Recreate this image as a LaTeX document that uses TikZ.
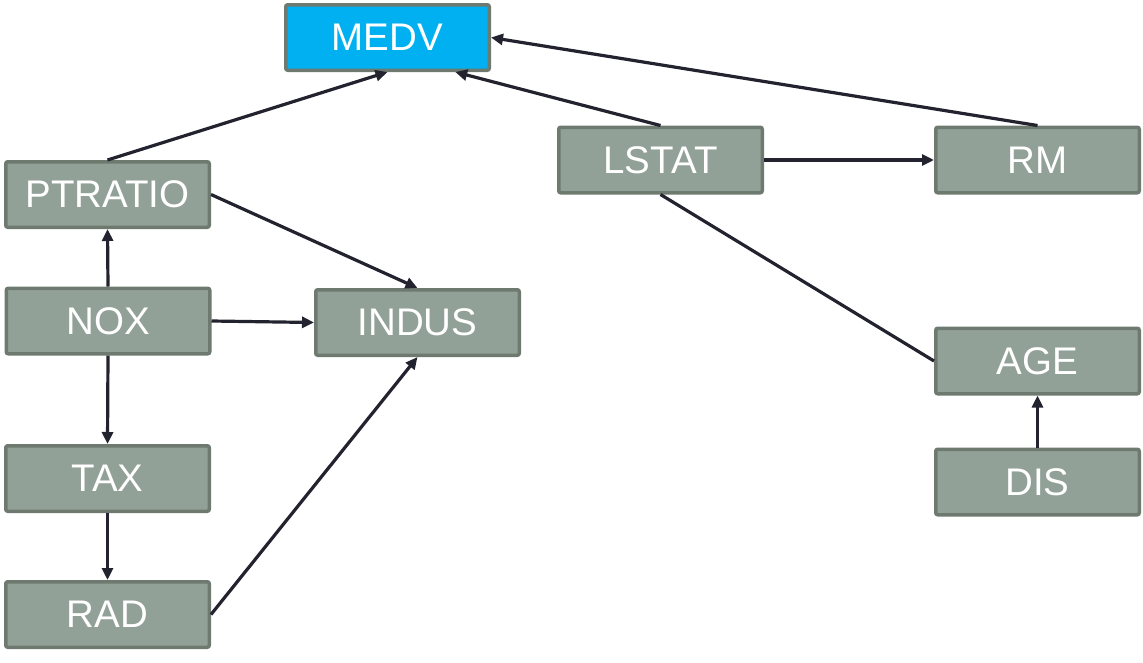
\documentclass[tikz,border=0pt]{standalone}
\usepackage{fontspec}
\setmainfont{Liberation Sans}
\usetikzlibrary{arrows.meta}
\definecolor{cbox}{HTML}{92A197}
\definecolor{cedge}{HTML}{6E7A70}
\definecolor{ctarget}{HTML}{00B0F0}
\definecolor{cline}{HTML}{23232F}
\tikzset{
  every picture/.style={line width=3.5pt},
  var/.style={draw=cedge, fill=#1, rounded corners=2pt, text=white, minimum width=203.5pt, minimum height=65.5pt, inner sep=0pt, font=\fontsize{38.5}{42}\selectfont},
  var/.default=cbox,
  arrow/.style={-{Triangle[length=12pt, width=11pt]}, draw=cline, line width=3.2pt},
  link/.style={draw=cline, line width=3.2pt},
}
\begin{document}
\begin{tikzpicture}[x=1pt, y=-1pt]
  \useasboundingbox (0,0) rectangle (1143,662);
  % target
  \node[var=ctarget] (medv) at (387.5,37.5) {MEDV};
  % left group
  \node[var] (ptratio) at (107.5,194.5) {PTRATIO};
  \node[var] (nox) at (108,321) {NOX};
  \node[var] (indus) at (417.5,322.5) {INDUS};
  \node[var] (tax) at (107.5,478.5) {TAX};
  \node[var] (rad) at (107.5,614.5) {RAD};
  % right group
  \node[var] (lstat) at (660.5,160) {LSTAT};
  \node[var] (rm) at (1037.5,160) {RM};
  \node[var] (age) at (1037.5,361) {AGE};
  \node[var] (dis) at (1037.5,482) {DIS};
  % edges
  \draw[arrow] (ptratio.north) -- (medv.south);
  \draw[arrow] (lstat.north) -- (medv.-27);
  \draw[arrow] (rm.north) -- (medv.east);
  \draw[arrow] (lstat.east) -- (rm.west);
  \draw[link] (lstat.south) -- (age.west);
  \draw[arrow] (ptratio.east) -- (indus.north);
  \draw[arrow] (nox.north) -- (ptratio.south);
  \draw[arrow] (nox.east) -- (indus.west);
  \draw[arrow] (nox.south) -- (tax.north);
  \draw[arrow] (tax.south) -- (rad.north);
  \draw[arrow] (rad.east) -- (indus.south);
  \draw[arrow] (dis.north) -- (age.south);
\end{tikzpicture}
\end{document}
